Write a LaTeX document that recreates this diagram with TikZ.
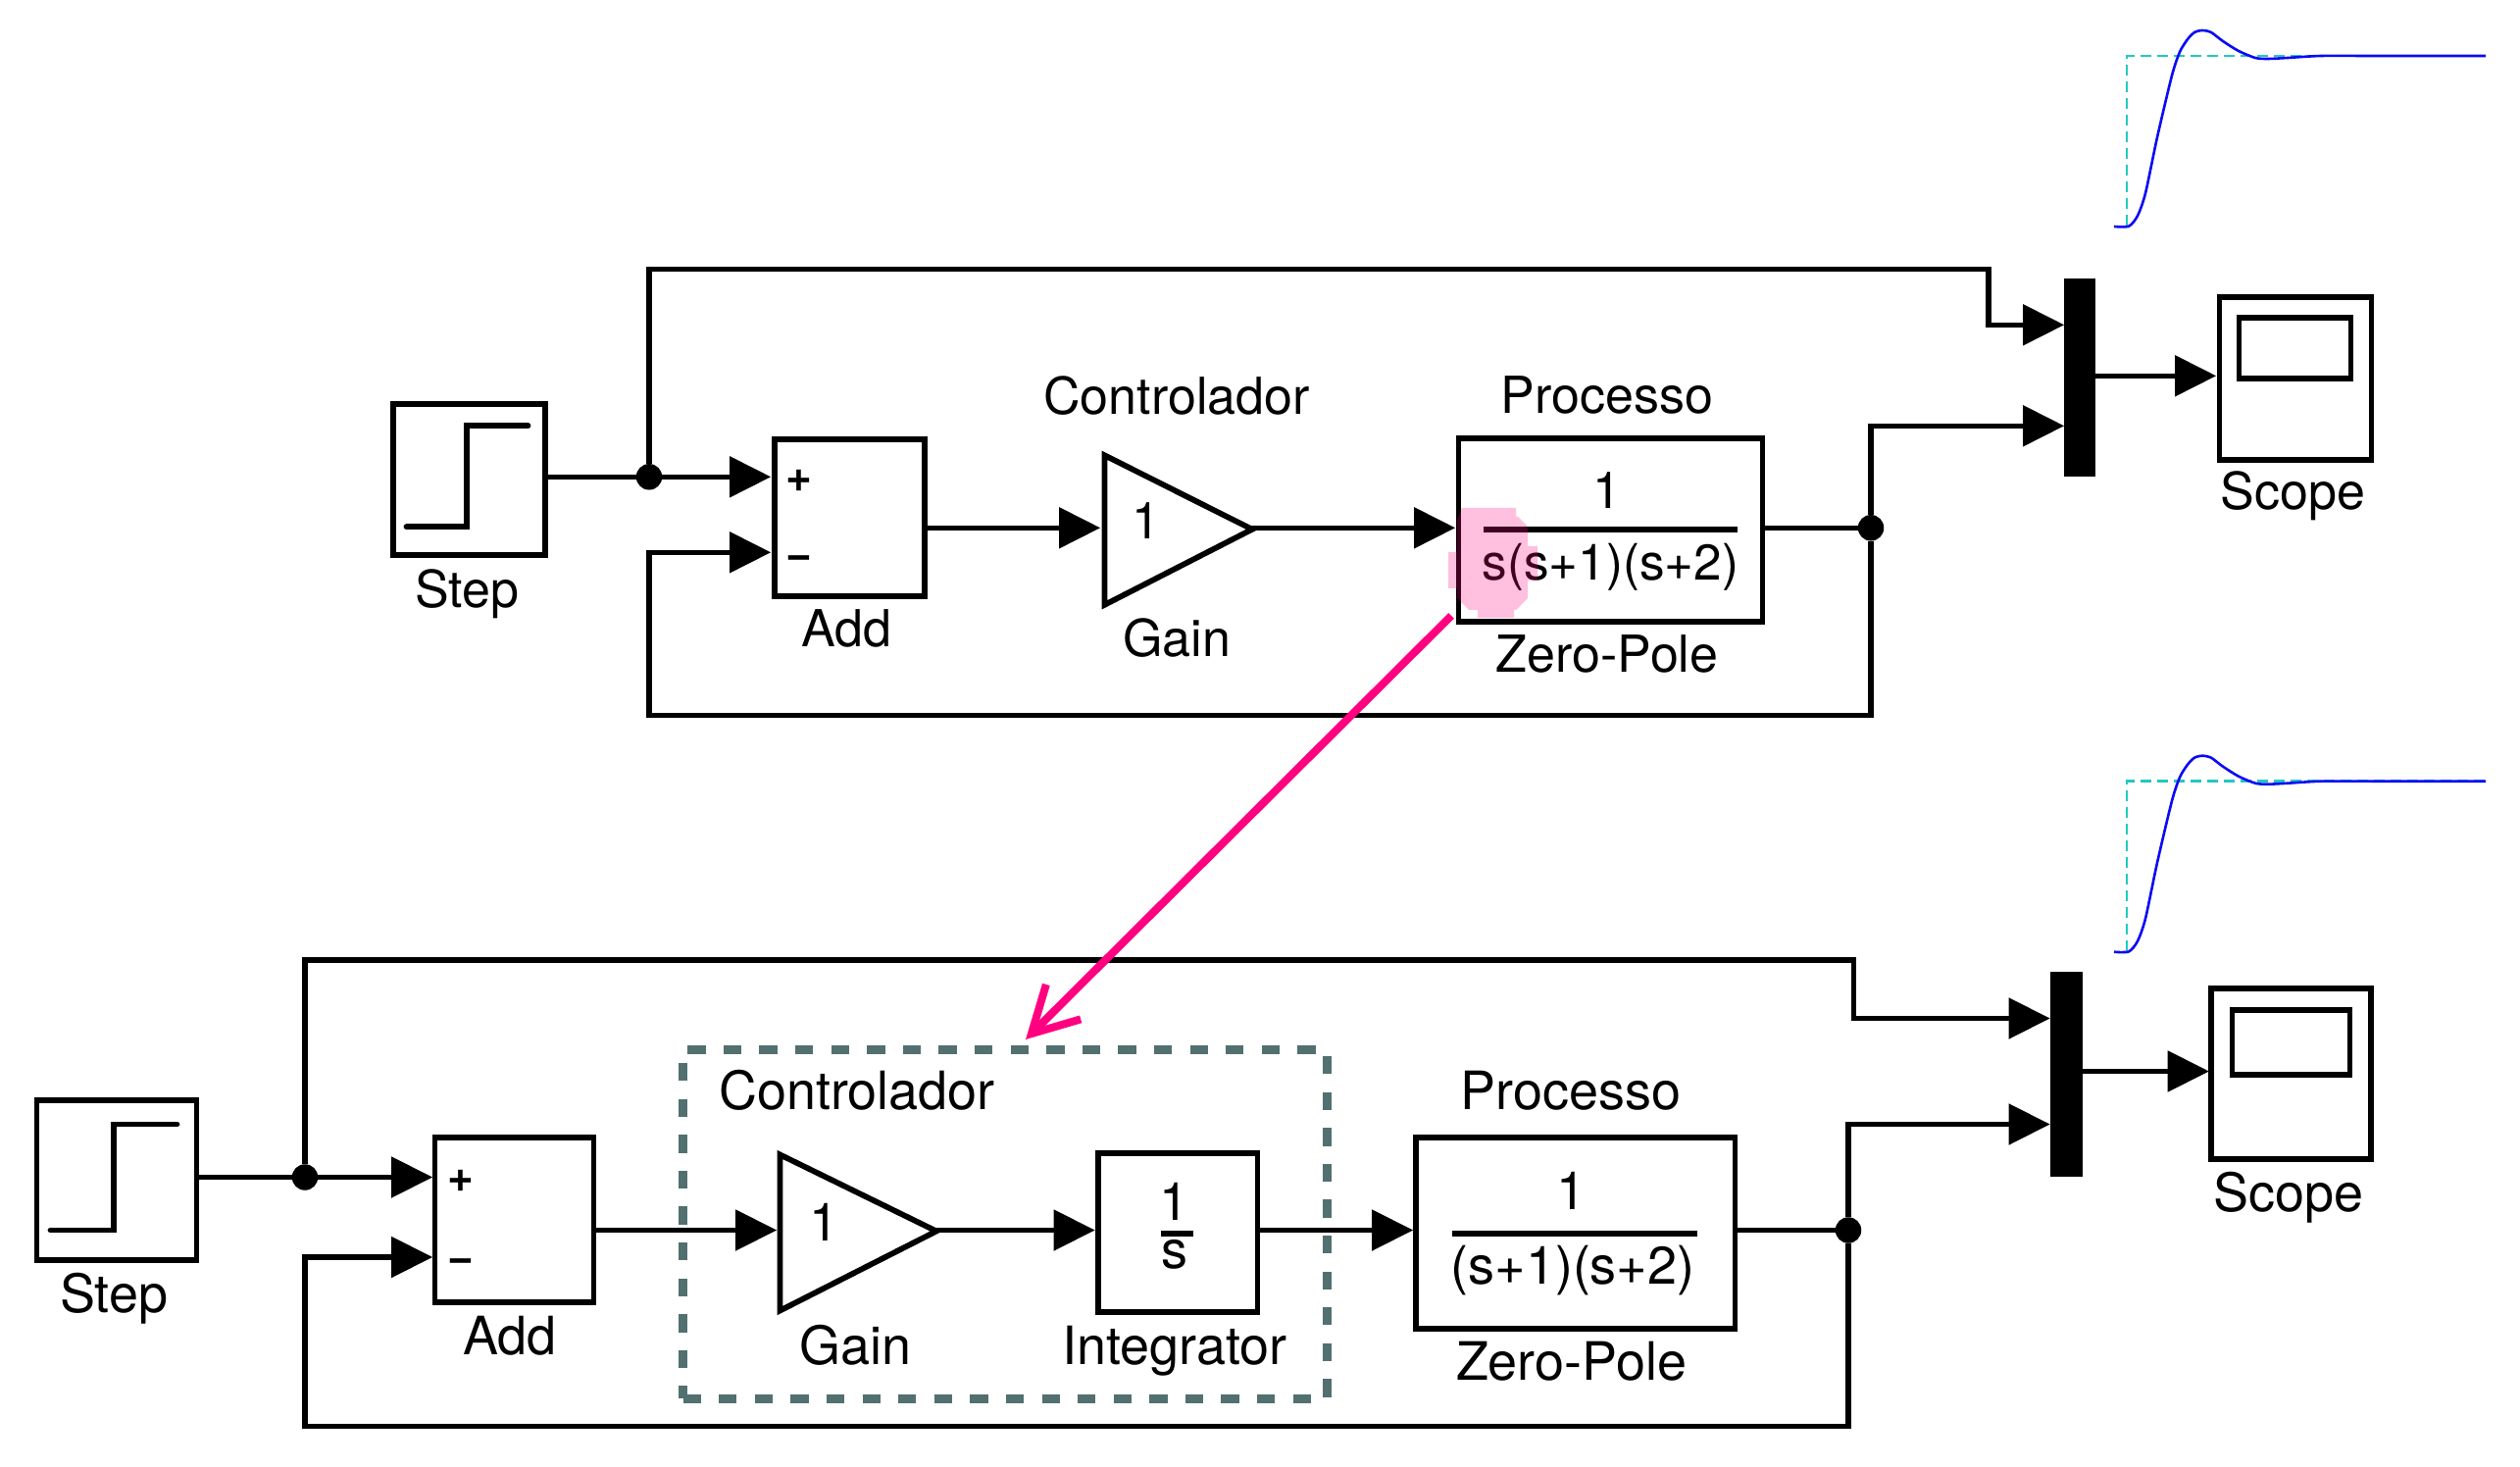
\documentclass[tikz,border=0pt]{standalone}
\usepackage{fontspec}
\setmainfont{TeX Gyre Heros}
\usetikzlibrary{arrows.meta}
\definecolor{wireblack}{HTML}{000000}
\definecolor{dashgrey}{HTML}{527070}
\definecolor{hotpink}{HTML}{FF0080}
\definecolor{stepteal}{HTML}{22C8C4}
\definecolor{respblue}{HTML}{0A0AF5}
\tikzset{
  blockbox/.style={draw=wireblack,line width=0.115cm,inner sep=0pt,outer sep=0pt},
  barblock/.style={fill=wireblack,inner sep=0pt,outer sep=0pt},
  junction/.style={circle,fill=wireblack,inner sep=0pt,outer sep=0pt,minimum size=0.53cm},
  wire/.style={draw=wireblack,line width=0.11cm,line join=miter},
  sig/.style={wire,-{Triangle[length=0.84cm,width=0.85cm,line width=0pt]}},
  glyphline/.style={draw=wireblack,line width=0.115cm,line cap=round,line join=miter},
  fracbar/.style={draw=wireblack,line width=0.12cm},
  labA/.style={anchor=base,inner sep=0pt,outer sep=0pt,yshift=-0.024cm,font=\fontsize{29.6pt}{36pt}\selectfont},
  labD/.style={anchor=base,inner sep=0pt,outer sep=0pt,yshift=-0.024cm,font=\fontsize{29.1pt}{36pt}\selectfont},
  labB/.style={anchor=base,inner sep=0pt,outer sep=0pt,font=\fontsize{30.7pt}{37pt}\selectfont},
  signlab/.style={anchor=base,inner sep=0pt,outer sep=0pt,yshift=-0.03cm,font=\fontsize{26.2pt}{30pt}\selectfont\bfseries},
  controlbox/.style={draw=dashgrey,line width=0.175cm,dash pattern=on 0.366cm off 0.366cm,inner sep=0pt,outer sep=0pt},
  refline/.style={draw=stepteal,line width=0.05cm,dash pattern=on 0.22cm off 0.12cm},
  respline/.style={draw=respblue,line width=0.052cm},
  pointer/.style={draw=hotpink,line width=0.16cm,-{Straight Barb[length=0.92cm,width=1.0cm]}},
}
\newcommand{\respplot}{%
  \draw[refline] (2169,230) -- (2169,57) -- (2535,57);
  \draw[respline] plot[smooth,tension=0.45] coordinates {(2156,231) (2171,230.7) (2180,220) (2188,197) (2200,140) (2215,77) (2223,53) (2231,40) (2238,33) (2246,31) (2255,33) (2267,42) (2283,52) (2300,59) (2313,60) (2333,59) (2367,57) (2420,57) (2535,57)};
}
\begin{document}
\begin{tikzpicture}[x=0.02cm,y=-0.02cm]
\useasboundingbox (0,0) rectangle (2570,1496);
\fill[white] (0,0) rectangle (2570,1496);

% ---- response plots
\respplot
\begin{scope}[shift={(0,739.7)}]
\respplot
\end{scope}

\begin{scope}[shift={(0,0.3)}]
% ---- top diagram: ports
\coordinate (stepAout) at (556,486);
\coordinate (addAin1) at (786,486);
\coordinate (addAin2) at (786,563);
\coordinate (addAout) at (943,538);
\coordinate (gainAin) at (1122,538);
\coordinate (gainAout) at (1276,538);
\coordinate (zpAin) at (1484,538);
\coordinate (zpAout) at (1797,538);
\coordinate (turnA) at (2028,274);
\coordinate (muxAin1) at (2105,331);
\coordinate (muxAin2) at (2105,434);
\coordinate (muxAout) at (2137,383);
\coordinate (scopeAin) at (2260,383);
\coordinate (fbA) at (662,729);

\node[junction] (jA1) at (662,486) {};
\node[junction] (jA2) at (1908,538) {};

\draw[wire] (stepAout) -- (jA1);
\draw[sig] (jA1) -- (addAin1);
\draw[sig] (jA1) |- (turnA) |- (muxAin1);
\draw[sig] (jA2) |- (muxAin2);
\draw[sig] (jA2) |- (fbA) |- (addAin2);
\draw[sig] (addAout) -- (gainAin);
\draw[sig] (gainAout) -- (zpAin);
\draw[wire] (zpAout) -- (jA2);
\draw[sig] (muxAout) -- (scopeAin);

% ---- top diagram: blocks
\node[blockbox,minimum width=3.1cm,minimum height=3.08cm] (stepA) at (478.5,488.5) {};
\draw[glyphline] (414.5,537) -- (476,537) -- (476,434) -- (538.5,434);
\node[blockbox,minimum width=3.06cm,minimum height=3.2cm] (addA) at (866.5,527.5) {};
\draw[blockbox] (1126.5,464) -- (1126.5,616.5) -- (1277,539.5) -- cycle;
\node[blockbox,minimum width=6.2cm,minimum height=3.74cm] (zpA) at (1642.5,540) {};
\draw[fracbar] (1513,540) -- (1772,540);
\node[barblock,minimum width=0.64cm,minimum height=4.04cm] (muxA) at (2121,385) {};
\node[blockbox,minimum width=3.1cm,minimum height=3.32cm] (scopeA) at (2341,385.5) {};
\node[blockbox,minimum width=2.28cm,minimum height=1.24cm] (screenA) at (2340.5,354.5) {};

\node[signlab] (plusA) at (815,500.2) {+};
\node[signlab] (minusA) at (815,579.2) {−};
\node[labA] (tStepA) at (476,618) {Step};
\node[labA] (tAddA) at (863,658) {Add};
\node[labA] (tCtrlA) at (1200,421) {Controlador};
\node[labA] (tOneGA) at (1169,548) {1};
\node[labA] (tGainA) at (1200,667.5) {Gain};
\node[labA] (tProcA) at (1639,420) {Processo};
\node[labA] (tNumA) at (1639,517) {1};
\node[labD] (tDenA) at (1642.5,590) {s(s+1)(s+2)};
\node[labA] (tZpA) at (1639,684) {Zero-Pole};
\node[labA] (tScopeA) at (2338.5,518) {Scope};
\end{scope}

\begin{scope}[shift={(0,1.5)}]
% ---- bottom diagram: ports
\coordinate (stepBout) at (200,1199);
\coordinate (addBin1) at (441,1199);
\coordinate (addBin2) at (441,1280.5);
\coordinate (addBout) at (605,1253);
\coordinate (gainBin) at (792,1253);
\coordinate (gainBout) at (955,1253);
\coordinate (intBin) at (1116.5,1253);
\coordinate (intBout) at (1282,1253);
\coordinate (zpBin) at (1441,1253);
\coordinate (zpBout) at (1769,1253);
\coordinate (turnB) at (1890.5,977.5);
\coordinate (muxBin1) at (2090.5,1037);
\coordinate (muxBin2) at (2090.5,1145);
\coordinate (muxBout) at (2123,1091);
\coordinate (scopeBin) at (2252.7,1091);
\coordinate (fbB) at (311,1453);

\node[junction] (jB1) at (311,1199) {};
\node[junction] (jB2) at (1885,1253) {};

\draw[wire] (stepBout) -- (jB1);
\draw[sig] (jB1) -- (addBin1);
\draw[sig] (jB1) |- (turnB) |- (muxBin1);
\draw[sig] (jB2) |- (muxBin2);
\draw[sig] (jB2) |- (fbB) |- (addBin2);
\draw[sig] (addBout) -- (gainBin);
\draw[sig] (gainBout) -- (intBin);
\draw[sig] (intBout) -- (zpBin);
\draw[wire] (zpBout) -- (jB2);
\draw[sig] (muxBout) -- (scopeBin);

% ---- bottom diagram: blocks
\node[blockbox,minimum width=3.26cm,minimum height=3.26cm] (stepB) at (119,1202) {};
\draw[glyphline] (51.5,1253) -- (116,1253) -- (116,1145) -- (180.5,1145);
\node[blockbox,minimum width=3.24cm,minimum height=3.36cm] (addB) at (524.5,1242.5) {};
\draw[blockbox] (795.5,1176) -- (795.5,1335) -- (955,1254) -- cycle;
\node[blockbox,minimum width=3.25cm,minimum height=3.24cm] (intB) at (1201.25,1255.5) {};
\draw[fracbar] (1183.5,1256) -- (1217,1256);
\node[blockbox,minimum width=6.51cm,minimum height=3.9cm] (zpB) at (1606.75,1256) {};
\draw[fracbar] (1481,1256) -- (1731,1256);
\node[barblock,minimum width=0.66cm,minimum height=4.2cm] (muxB) at (2107,1094) {};
\node[blockbox,minimum width=3.26cm,minimum height=3.48cm] (scopeB) at (2336.7,1093.5) {};
\node[blockbox,minimum width=2.4cm,minimum height=1.32cm] (screenB) at (2336.5,1061.5) {};

\node[signlab] (plusB) at (470,1212) {+};
\node[signlab] (minusB) at (470,1294.6) {−};
\node[labB] (tStepB) at (116,1337) {Step};
\node[labB] (tAddB) at (520,1380) {Add};
\node[labB] (tCtrlB) at (874,1130) {Controlador};
\node[labB] (tOneGB) at (840,1264) {1};
\node[labB] (tGainB) at (872.5,1390) {Gain};
\node[labB] (tNumI) at (1197,1243) {1};
\node[labB] (tDenI) at (1198,1292) {s};
\node[labB] (tIntB) at (1198,1390) {Integrator};
\node[labB] (tProcB) at (1602,1130) {Processo};
\node[labB] (tNumB) at (1602,1232) {1};
\node[labB] (tDenB) at (1604,1308) {(s+1)(s+2)};
\node[labB] (tZpB) at (1602.6,1406) {Zero-Pole};
\node[labB] (tScopeB) at (2334,1234) {Scope};

% ---- controller group
\node[controlbox,minimum width=13.14cm,minimum height=7.12cm] (ctrlgroup) at (1025,1247) {};
\end{scope}

% ---- highlight and pointer
\fill[hotpink,opacity=0.25] (1491,518) -- (1546,518) -- (1546,527) -- (1548,527) -- (1558,537) -- (1558,557) -- (1568,557) -- (1568,592) -- (1558,592) -- (1558,610) -- (1546,622) -- (1544,622) -- (1544,630) -- (1507,630) -- (1507,622) -- (1498,622) -- (1486,610) -- (1486,600) -- (1477,600) -- (1477,563) -- (1486,563) -- (1486,530) -- cycle;
\coordinate (ptrStart) at (1480,628);
\coordinate (ptrTip) at (1046,1060);
\draw[pointer] (ptrStart) -- (ptrTip);
\end{tikzpicture}
\end{document}
